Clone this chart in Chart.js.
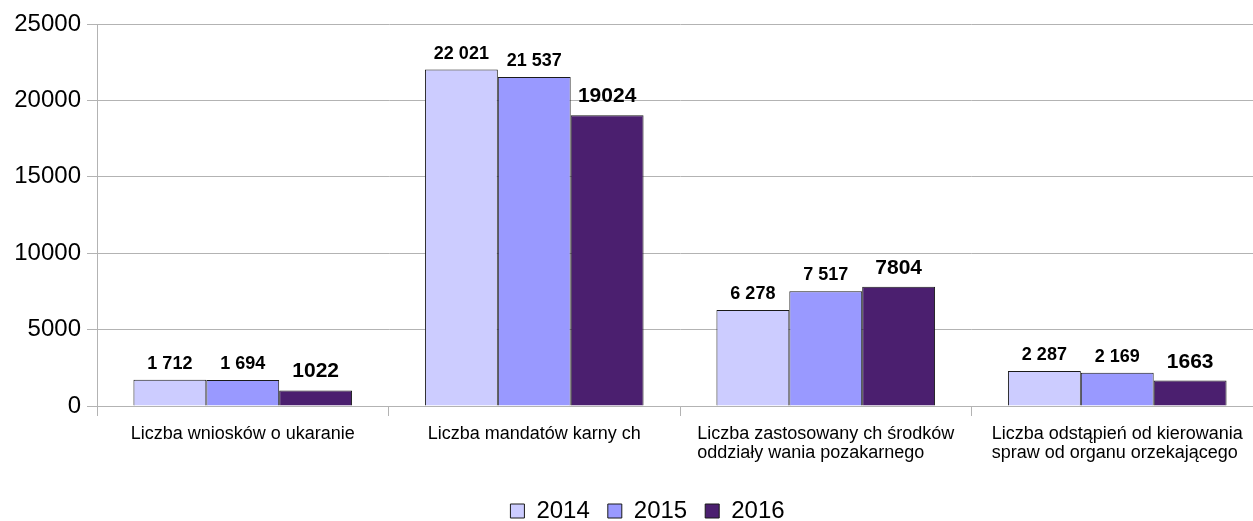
<!DOCTYPE html>
<html>
<head>
<meta charset="utf-8">
<script src="https://cdn.jsdelivr.net/npm/chart.js@4.4.1/dist/chart.umd.min.js"></script>
<style>
  html, body { margin: 0; padding: 0; background: #fff; overflow: hidden; }
  #wrap { width: 1263px; height: 521px; }
</style>
</head>
<body>
<div id="wrap"><canvas id="myChart"></canvas></div>
<script>
const categories = [
    ['Liczba wniosków o ukaranie'],
    ['Liczba mandatów karny ch'],
    ['Liczba zastosowany ch środków', 'oddziały wania pozakarnego'],
    ['Liczba odstąpień od kierowania', 'spraw od organu orzekającego']
];
const years = ['2014', '2015', '2016'];
const values2014 = [1712, 22021, 6278, 2287];
const values2015 = [1694, 21537, 7517, 2169];
const values2016 = [1022, 19024, 7804, 1663];
const yTicks = [0, 5000, 10000, 15000, 20000, 25000];

const colors = ['#ccccff', '#9999ff', '#4b1f6f'];
const FONT = '"Liberation Sans", Arial, sans-serif';

// 2014 i 2015 maja spacje w liczbach, 2016 nie
function fmt(v, spaced) {
    if (!spaced) return String(v);
    return String(v).replace(/\B(?=(\d{3})+(?!\d))/g, ' ');
}

const valueLabels = {
    id: 'valueLabels',
    afterLayout(chart) {
        // legenda w oryginale jest troche w prawo
        chart.legend.left += 12;
        chart.legend.right += 12;
    },
    afterDatasetsDraw(chart) {
        const ctx = chart.ctx;
        ctx.save();
        ctx.fillStyle = '#000';
        ctx.textAlign = 'center';
        ctx.textBaseline = 'alphabetic';
        chart.data.datasets.forEach((ds, i) => {
            const meta = chart.getDatasetMeta(i);
            const big = i === 2;
            ctx.font = (big ? 'bold 21px ' : 'bold 18px ') + FONT;
            meta.data.forEach((bar, j) => {
                ctx.fillText(fmt(ds.data[j], !big), bar.x, bar.y - (big ? 13 : 11));
            });
        });
        ctx.restore();
    },
    afterDraw(chart) {
        // etykiety kategorii wyrownane do lewej, blok wysrodkowany
        const ctx = chart.ctx;
        const x = chart.scales.x;
        ctx.save();
        ctx.fillStyle = '#000';
        ctx.font = '18px ' + FONT;
        ctx.textAlign = 'left';
        ctx.textBaseline = 'middle';
        chart.data.labels.forEach((lines, i) => {
            const cx = x.getPixelForTick(i);
            const w = Math.max(...lines.map(l => ctx.measureText(l).width));
            lines.forEach((l, k) => {
                ctx.fillText(l, cx - w / 2, x.top + 28 + k * 19);
            });
        });
        ctx.restore();
    }
};

const ctx = document.getElementById('myChart');

new Chart(ctx, {
    type: 'bar',
    data: {
        labels: categories,
        datasets: [values2014, values2015, values2016].map((d, i) => ({
            label: years[i],
            data: d,
            backgroundColor: colors[i],
            borderColor: '#1a1a1a',
            borderWidth: 1,
            categoryPercentage: 0.75,
            barPercentage: 1
        }))
    },
    options: {
        responsive: true,
        maintainAspectRatio: false,
        animation: false,
        layout: { padding: { top: 24, left: 8, right: 0, bottom: -12 } },
        scales: {
            x: {
                grid: { offset: true, drawOnChartArea: false, drawTicks: true, tickLength: 10, color: '#b3b3b3' },
                border: { color: '#b3b3b3' },
                ticks: { display: false },
                afterFit(axis) { axis.height = 75; }
            },
            y: {
                min: 0,
                max: 25000,
                afterBuildTicks(axis) { axis.ticks = yTicks.map(v => ({ value: v })); },
                grid: { color: '#b3b3b3', tickLength: 10 },
                border: { color: '#b3b3b3' },
                ticks: {
                    color: '#000',
                    padding: 6,
                    callback: v => String(v),
                    font: { family: FONT, size: 24 }
                },
                afterFit(axis) { axis.width = 89; }
            }
        },
        plugins: {
            legend: {
                position: 'bottom',
                labels: {
                    color: '#000',
                    boxWidth: 14,
                    boxHeight: 14,
                    padding: 18,
                    font: { family: FONT, size: 24 }
                }
            },
            tooltip: { enabled: false }
        }
    },
    plugins: [valueLabels]
});
</script>
</body>
</html>
